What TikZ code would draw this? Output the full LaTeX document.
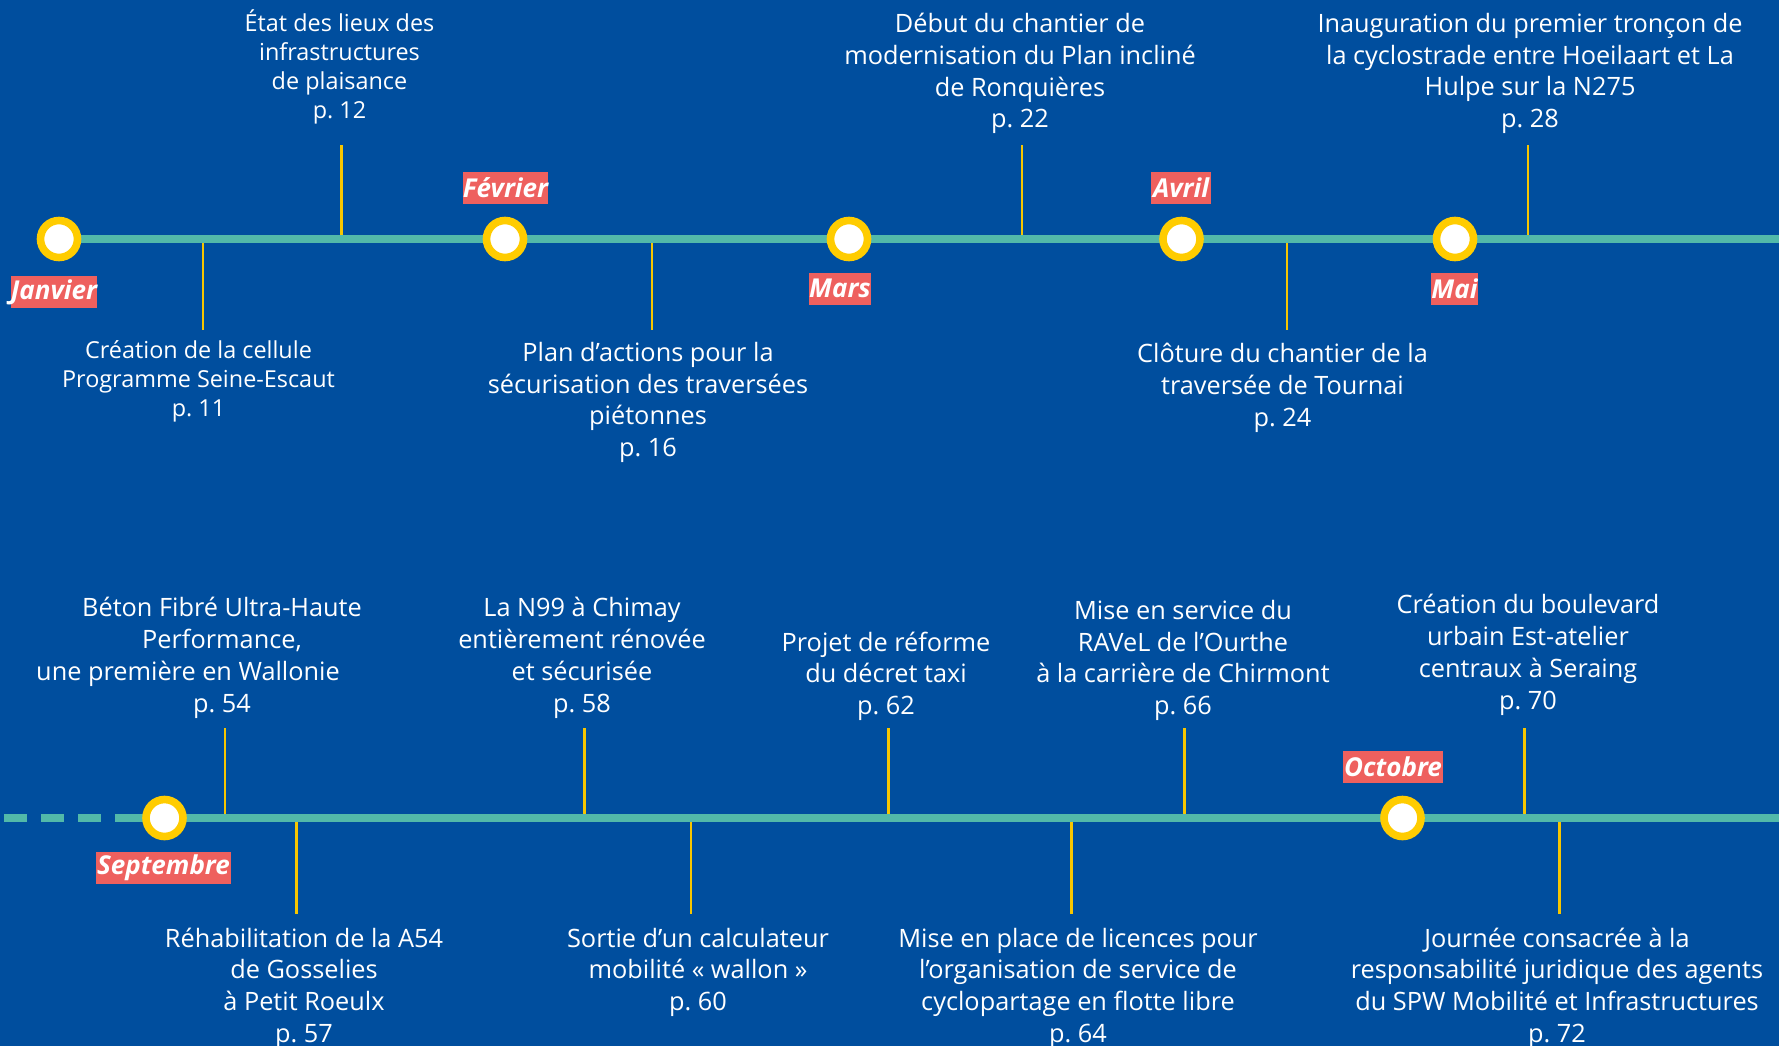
\documentclass[tikz,border=0pt]{standalone}
\usepackage{fontspec}
\setmainfont{Open Sans}
\definecolor{bgblue}{HTML}{004E9E}
\definecolor{axisteal}{HTML}{52B9A9}
\definecolor{ringyellow}{HTML}{FFCC00}
\definecolor{tickyellow}{HTML}{F7C600}
\definecolor{labelred}{HTML}{EE605E}
\begin{document}
\begin{tikzpicture}[x=1pt,y=-1pt,
  evt/.style={text=white, align=center, inner sep=0pt, font=\fontsize{25.3}{31.8}\selectfont},
  evtsmall/.style={evt, font=\fontsize{23.4}{29}\selectfont},
  month/.style={fill=labelred, text=white, inner sep=0pt, minimum height=32pt, font=\fontsize{26}{28}\selectfont\bfseries\itshape},
  milestone/.style={circle, draw=ringyellow, line width=7.6pt, fill=white, minimum size=37pt, inner sep=0pt},
  tickline/.style={draw=tickyellow, line width=2.5pt},
  axis/.style={draw=axisteal, line width=8pt}]
\fill[bgblue] (0,0) rectangle (1779,1046);
\useasboundingbox (0,0) rectangle (1779,1046);

% ---------- top timeline ----------
\coordinate (topR) at (1779,239);
\coordinate (topStart) at (59,239);
\foreach \n/\x in {a/341.5,b/1022,c/1528}{
  \coordinate (tu\n) at (\x,145);
  \coordinate (tu\n b) at (\x,239);
  \draw[tickline] (tu\n) -- (tu\n b);
}
\foreach \n/\x in {a/203,b/652,c/1287}{
  \coordinate (td\n) at (\x,330);
  \coordinate (td\n b) at (\x,239);
  \draw[tickline] (td\n b) -- (td\n);
}
\draw[axis] (topStart) -- (topR);
\node[milestone] (jan) at (59,239) {};
\node[milestone] (feb) at (505,239) {};
\node[milestone] (mar) at (849,239) {};
\node[milestone] (apr) at (1181.5,239) {};
\node[milestone] (may) at (1455,239) {};

\node[month, minimum width=86pt] (ljan) at (54,292) {Janvier};
\node[month, minimum width=85pt] (lfeb) at (505.5,188) {Février};
\node[month, minimum width=62pt] (lmar) at (840,288.5) {Mars};
\node[month, minimum width=60pt] (lapr) at (1181,188) {Avril};
\node[month, minimum width=45pt] (lmay) at (1454.5,289) {Mai};

\node[evtsmall] (e1) at (339.5,66.5) {État des lieux des\\infrastructures\\de plaisance\\p.~12};
\node[evtsmall] (e2) at (198.5,381.5) {Création de la cellule\\Programme Seine-Escaut\\p.~11};
\node[evt] (e3) at (648,402.5) {Plan d’actions pour la\\sécurisation des traversées\\piétonnes\\p.~16};
\node[evt] (e4) at (1020,73.5) {Début du chantier de\\modernisation du Plan incliné\\de Ronquières\\p.~22};
\node[evt] (e5) at (1282.5,388) {Clôture du chantier de la\\traversée de Tournai\\p.~24};
\node[evt] (e6) at (1530,73.5) {Inauguration du premier tronçon de\\la cyclostrade entre Hoeilaart et La\\Hulpe sur la N275\\p.~28};

% ---------- bottom timeline ----------
\coordinate (botD) at (4,818);
\coordinate (botS) at (115,818);
\coordinate (botR) at (1779,818);
\foreach \n/\x in {a/225,b/584.5,c/888.5,d/1184.5,e/1524.5}{
  \coordinate (bu\n) at (\x,728);
  \coordinate (bu\n b) at (\x,818);
  \draw[tickline] (bu\n) -- (bu\n b);
}
\foreach \n/\x in {a/296.5,b/691,c/1071.5,d/1559.5}{
  \coordinate (bd\n) at (\x,914);
  \coordinate (bd\n b) at (\x,818);
  \draw[tickline] (bd\n b) -- (bd\n);
}
\draw[axis, dash pattern=on 23pt off 14pt] (botD) -- (botS);
\draw[axis] (botS) -- (botR);
\node[milestone] (sep) at (164.5,818) {};
\node[milestone] (oct) at (1402.5,818) {};

\node[month, minimum width=135pt] (lsep) at (163.5,868) {Septembre};
\node[month, minimum width=100pt] (loct) at (1393,767) {Octobre};

\node[evt] (f1) at (222,658) {Béton Fibré Ultra-Haute\\Performance,\\une première en Wallonie\rule{68pt}{0pt}\\p.~54};
\node[evt] (f2) at (582,658) {La N99 à Chimay\\entièrement rénovée\\et sécurisée\\p.~58};
\node[evt] (f3) at (886,676.3) {Projet de réforme\\du décret taxi\\p.~62};
\node[evt] (f4) at (1183,660.5) {Mise en service du\\RAVeL de l’Ourthe\\à la carrière de Chirmont\\p.~66};
\node[evt] (f5) at (1528,655) {Création du boulevard\\urbain Est-atelier\\centraux à Seraing\\p.~70};
\node[evt] (g1) at (304,988.2) {Réhabilitation de la A54\\de Gosselies\\à Petit Roeulx\\p.~57};
\node[evt] (g2) at (698,972.4) {Sortie d’un calculateur\\mobilité «~wallon~»\\p.~60};
\node[evt] (g3) at (1078,988.2) {Mise en place de licences pour\\l’organisation de service de\\cyclopartage en flotte libre\\p.~64};
\node[evt] (g4) at (1557,988.2) {Journée consacrée à la\\responsabilité juridique des agents\\du SPW Mobilité et Infrastructures\\p.~72};
\end{tikzpicture}
\end{document}
